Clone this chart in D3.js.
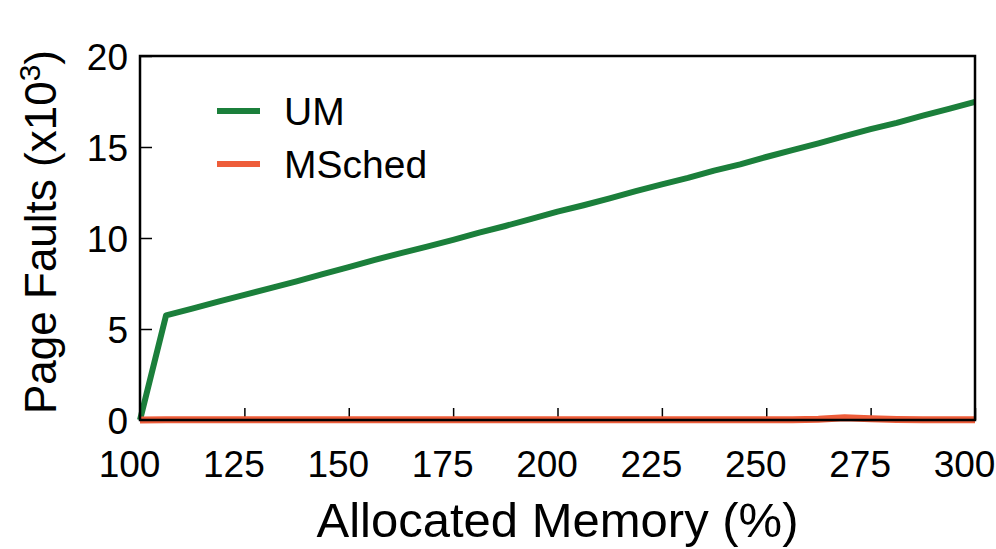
<!DOCTYPE html>
<html><head><meta charset="utf-8">
<script src="https://cdn.jsdelivr.net/npm/d3@7"></script>
<style>body{margin:0;background:#fff}svg{display:block}text{font-family:"Liberation Sans",Arial,sans-serif;fill:#000}</style>
</head><body>
<svg id="c" width="996" height="549"></svg>
<script>
const memory = [100,106.25,112.5,118.75,125,131.25,137.5,143.75,150,156.25,162.5,168.75,175,181.25,187.5,193.75,200,206.25,212.5,218.75,225,231.25,237.5,243.75,250,256.25,262.5,268.75,275,281.25,287.5,293.75,300];
const umFaults = [0,5.75,6.12,6.5,6.87,7.25,7.62,8.02,8.4,8.8,9.17,9.53,9.9,10.3,10.66,11.05,11.45,11.8,12.18,12.58,12.95,13.3,13.7,14.05,14.45,14.83,15.2,15.6,15.98,16.33,16.72,17.1,17.48];
const mschedFaults = [0,0.01,0.01,0.01,0.02,0.01,0.01,0.02,0.02,0.01,0.01,0.01,0.01,0.02,0.02,0.02,0.02,0.01,0.01,0.01,0.02,0.01,0.02,0.01,0.01,0.02,0.04,0.12,0.07,0.03,0.02,0.02,0.02];
const xTicks = [100,125,150,175,200,225,250,275,300];
const yTicks = [0,5,10,15,20];
const seriesNames = ["UM","MSched"];
const colors = ["#1b7f3b","#ee5d3a"];

const svg = d3.select("#c");
const L=140, R=975, T=56, B=420;
const x = d3.scaleLinear().domain([100,300]).range([L,R]);
const y = d3.scaleLinear().domain([0,20]).range([B,T]);

const line = d3.line().x((d,i)=>x(memory[i])).y(d=>y(d));

// axes
const gx = svg.append("g").attr("transform",`translate(0,${B})`)
  .call(d3.axisBottom(x).tickValues(xTicks).tickSizeInner(-12).tickSizeOuter(0).tickPadding(31));
const gy = svg.append("g").attr("transform",`translate(${L},0)`)
  .call(d3.axisLeft(y).tickValues(yTicks).tickSizeInner(-12).tickSizeOuter(0).tickPadding(12));
[gx,gy].forEach(g=>{
  g.select(".domain").remove();
  g.selectAll(".tick line").attr("stroke","#000").attr("stroke-width",1.5);
  g.selectAll(".tick text").style("font-size","37px").style("font-family",'"Liberation Sans",Arial,sans-serif').attr("fill","#000");
});
gx.selectAll(".tick text").attr("dx","-11");
gy.selectAll(".tick text").attr("dy","0.36em");

svg.append("path").datum(umFaults).attr("d",line).attr("fill","none").attr("stroke",colors[0]).attr("stroke-width",6).attr("stroke-linejoin","round");
svg.append("path").datum(mschedFaults).attr("d",line).attr("fill","none").attr("stroke",colors[1]).attr("stroke-width",7);
svg.append("rect").attr("x",L).attr("y",T).attr("width",R-L).attr("height",B-T)
  .attr("fill","none").attr("stroke","#000").attr("stroke-width",2.5);

// titles
svg.append("text").attr("x",(L+R)/2).attr("y",537).attr("text-anchor","middle").style("font-size","49px").text("Allocated Memory (%)");
const yt = svg.append("text").attr("transform",`translate(56,${(T+B)/2-6}) rotate(-90)`).attr("text-anchor","middle").style("font-size","44px");
yt.append("tspan").text("Page Faults (x10");
yt.append("tspan").attr("dy","-16").style("font-size","30px").text("3");
yt.append("tspan").attr("dy","16").text(")");

// legend
const leg = svg.append("g");
seriesNames.forEach((n,i)=>{
  const yy = 111 + i*53;
  leg.append("line").attr("x1",217).attr("x2",260).attr("y1",yy).attr("y2",yy).attr("stroke",colors[i]).attr("stroke-width",6);
  leg.append("text").attr("x",284).attr("y",yy).attr("dy","0.36em").style("font-size","39px").text(n);
});
</script>
</body></html>
